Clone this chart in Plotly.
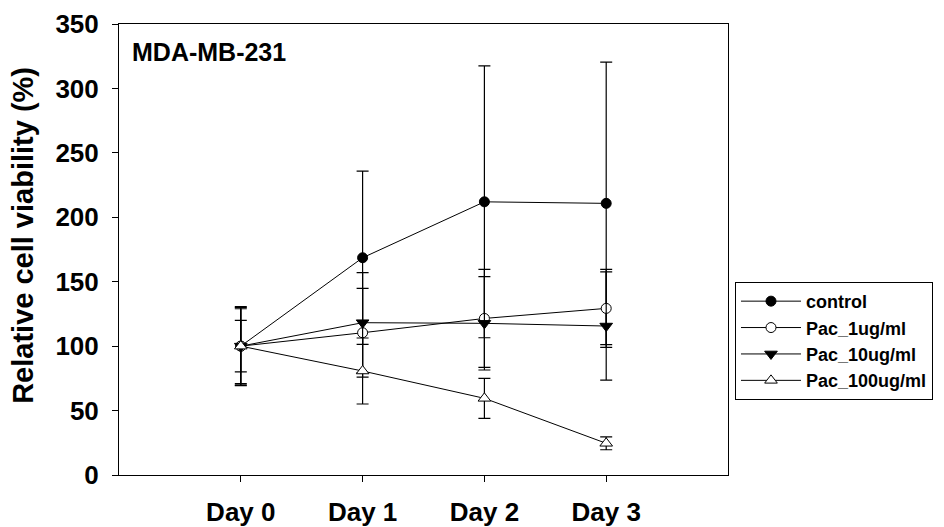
import plotly.graph_objects as go

days = [0, 1, 2, 3]
day_labels = ["Day 0", "Day 1", "Day 2", "Day 3"]

control = [100, 168.6, 212.0, 210.8]
control_err = [30.6, 67.2, 105.5, 109.6]
pac_1 = [100, 110.4, 121.5, 129.3]
pac_1_err = [29.0, 34.4, 38.0, 30.3]
pac_10 = [100, 118.2, 117.7, 115.6]
pac_10_err = [30.0, 38.8, 36.2, 42.0]
pac_100 = [100, 80.7, 59.5, 24.6]
pac_100_err = [20.0, 25.6, 15.5, 5.0]

series = [
    ("control", control, control_err, "circle", "black", 10),
    ("Pac_1ug/ml", pac_1, pac_1_err, "circle", "white", 10),
    ("Pac_10ug/ml", pac_10, pac_10_err, "triangle-down", "black", 11),
    ("Pac_100ug/ml", pac_100, pac_100_err, "triangle-up", "white", 11),
]

FONT = "Liberation Sans, Arial, sans-serif"

fig = go.Figure()
for name, vals, errs, sym, fill, size in series:
    fig.add_trace(go.Scatter(
        x=days, y=vals, name=name, mode="lines+markers",
        line=dict(color="black", width=1),
        marker=dict(symbol=sym, color=fill, size=size,
                    line=dict(color="black", width=1)),
        error_y=dict(type="data", array=errs, visible=True,
                     color="black", thickness=1.2, width=6),
    ))

fig.add_annotation(
    text="MDA-MB-231", xref="paper", yref="paper", x=0.018, y=0.938,
    xanchor="left", yanchor="middle", showarrow=False,
    font=dict(family=FONT, size=25, color="black", weight="bold"),
)
fig.add_annotation(
    text="Relative cell viability (%)", xref="paper", yref="paper",
    x=-0.158, y=0.532, xanchor="center", yanchor="middle",
    textangle=-90, showarrow=False,
    font=dict(family=FONT, size=29, color="black", weight="bold"),
)

fig.update_layout(
    width=944, height=527,
    margin=dict(l=119, r=216, t=24, b=52),
    paper_bgcolor="white", plot_bgcolor="white",
    font=dict(family=FONT, color="black"),
    showlegend=True,
    legend=dict(
        xref="container", yref="container",
        x=0.7786, y=0.465, xanchor="left", yanchor="top",
        bordercolor="black", borderwidth=1, bgcolor="white",
        font=dict(family=FONT, size=18, color="black", weight="bold"),
        tracegroupgap=0, itemwidth=60,
    ),
    xaxis=dict(
        range=[-1, 4], tickvals=days, ticktext=day_labels,
        showgrid=False, zeroline=False, automargin=False,
        showline=True, linecolor="black", linewidth=1, mirror=True,
        ticks="outside", ticklen=6, tickcolor="black",
        ticklabelstandoff=8,
        tickfont=dict(family=FONT, size=26, color="black", weight="bold"),
    ),
    yaxis=dict(
        range=[0, 350], dtick=50, automargin=False,
        showgrid=False, zeroline=False,
        showline=True, linecolor="black", linewidth=1, mirror=True,
        ticks="outside", ticklen=6, tickcolor="black",
        ticklabelstandoff=8,
        tickfont=dict(family=FONT, size=26, color="black", weight="bold"),
    ),
)

fig.write_html("out.html")
